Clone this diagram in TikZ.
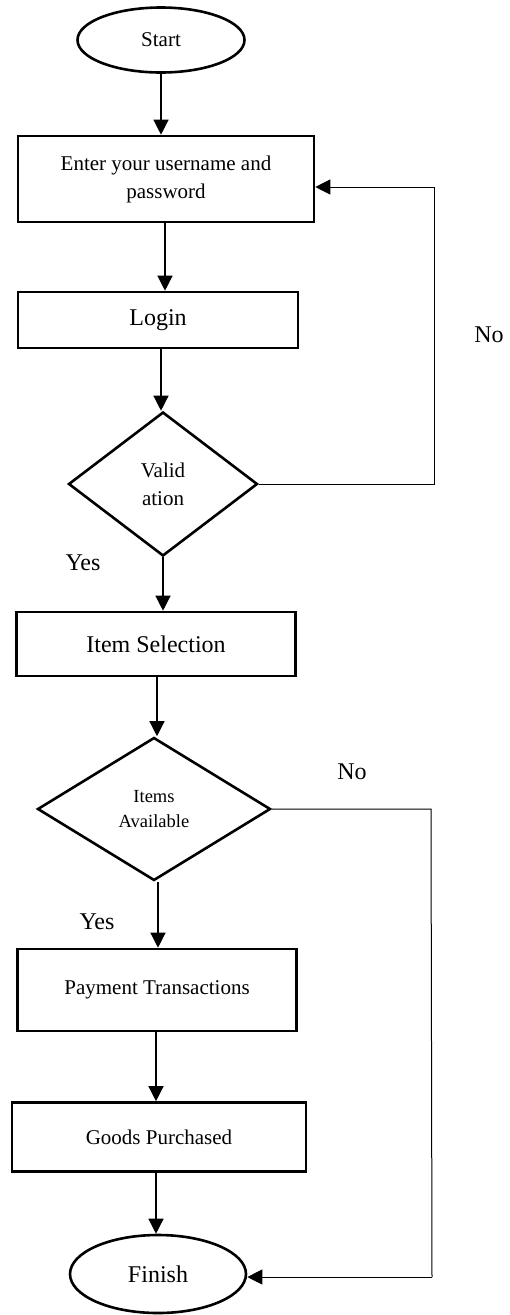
\documentclass[tikz,border=0pt]{standalone}
\usepackage{fontspec}
\setmainfont{Liberation Serif}
\usetikzlibrary{shapes.geometric,arrows.meta}
\begin{document}
\begin{tikzpicture}[x=1pt,y=-1pt,
  boxnode/.style={draw,line width=2.6pt,rectangle,inner sep=0pt,align=center},
  term/.style={draw,line width=2.6pt,ellipse,inner sep=0pt},
  decide/.style={draw,line width=2.6pt,diamond,inner sep=0pt,align=center},
  flow/.style={line width=1.3pt,-{Triangle[width=15pt,length=15pt]}},
  back/.style={line width=1pt},
  lbl/.style={font=\fontsize{24}{28}\selectfont}]
\useasboundingbox (0,0) rectangle (509,1315);
\node[term,minimum width=167pt,minimum height=65pt,font=\fontsize{21}{25}\selectfont] (start) at (161,40) {Start};
\node[boxnode,minimum width=296pt,minimum height=86pt,font=\fontsize{21}{28}\selectfont] (enter) at (166,179) {Enter your username and\\password};
\node[boxnode,minimum width=280pt,minimum height=56pt,font=\fontsize{24}{28}\selectfont] (login) at (158,320) {Login};
\node[decide,minimum width=189pt,minimum height=144pt,font=\fontsize{21}{28}\selectfont] (valid) at (163,484) {Valid\\ation};
\node[boxnode,minimum width=279pt,minimum height=64pt,font=\fontsize{24}{28}\selectfont] (item) at (156,644) {Item Selection};
\node[decide,minimum width=233pt,minimum height=143pt,font=\fontsize{18.5}{25}\selectfont] (avail) at (154,809) {Items\\Available};
\node[boxnode,minimum width=279pt,minimum height=82pt,font=\fontsize{21}{25}\selectfont] (pay) at (157,990) {Payment Transactions};
\node[boxnode,minimum width=294pt,minimum height=69pt,font=\fontsize{21}{25}\selectfont] (goods) at (159,1137) {Goods Purchased};
\node[term,minimum width=176pt,minimum height=78pt,font=\fontsize{24}{28}\selectfont] (finish) at (158,1274) {Finish};
\node[lbl] (no1) at (489,335) {No};
\node[lbl] (yes1) at (83,563) {Yes};
\node[lbl] (no2) at (352,772) {No};
\node[lbl] (yes2) at (97,922) {Yes};
\coordinate (c1) at (434,484);
\coordinate (c2) at (434,187);
\coordinate (c3) at (431,809);
\coordinate (c4) at (432,1277);
\draw[flow] (start.south) -- (start.south |- enter.north);
\draw[flow] (enter.south -| 165,0) -- (login.north -| 165,0);
\draw[flow] (login.south -| 161,0) -- (valid.north -| 161,0);
\draw[flow] (valid.south) -- (valid.south |- item.north);
\draw[flow] (item.south -| 157,0) -- (avail.north -| 157,0);
\draw[flow] (avail.south -| 158,0) -- (pay.north -| 158,0);
\draw[flow] (pay.south -| 156,0) -- (goods.north -| 156,0);
\draw[flow] (goods.south -| 156,0) -- (finish.north -| 156,0);
\draw[back] (valid.east) -- (c1) -- (c2);
\draw[flow,line width=1pt] (c2) -- (c2 -| enter.east);
\draw[back] (avail.east) -- (c3) -- (c4);
\draw[flow,line width=1pt] (c4) -- (c4 -| finish.east);
\end{tikzpicture}
\end{document}
